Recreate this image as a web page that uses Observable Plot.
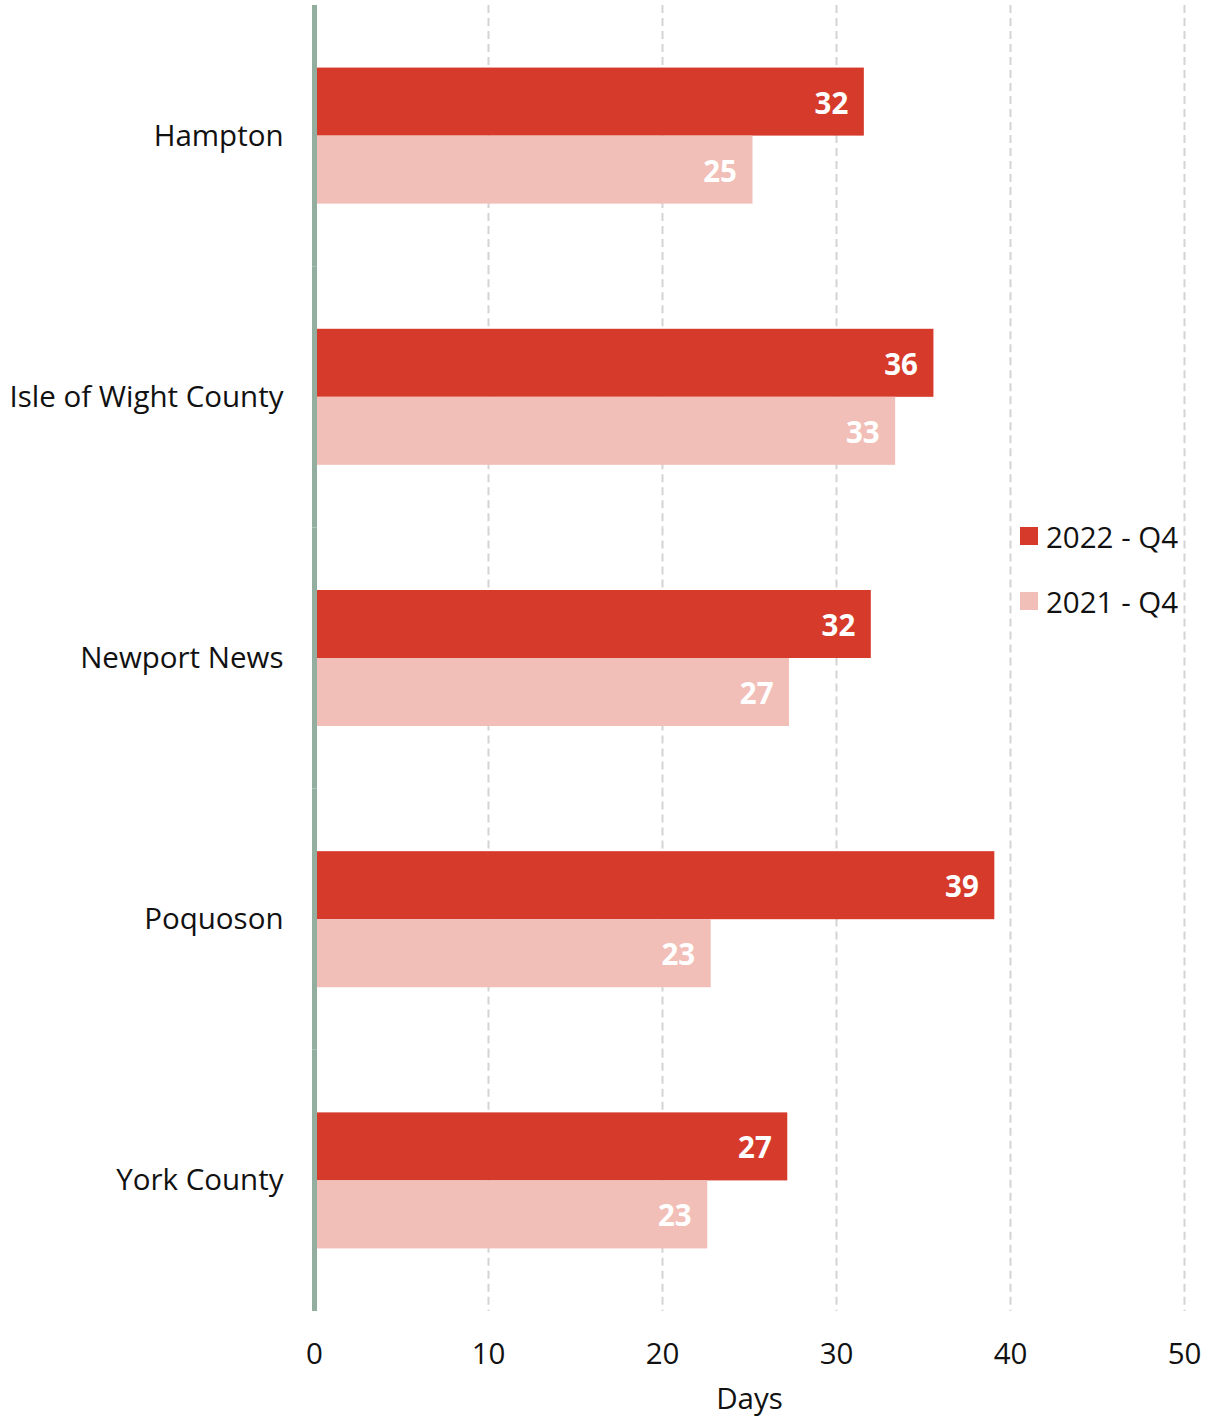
<!DOCTYPE html>
<html>
<head>
<meta charset="utf-8">
<script src="https://cdn.jsdelivr.net/npm/d3@7"></script>
<script src="https://cdn.jsdelivr.net/npm/@observablehq/plot@0.6"></script>
<style>
  html, body { margin: 0; padding: 0; background: #fff; }
  #wrap { position: relative; width: 1213px; height: 1418px; font-family: "Open Sans", sans-serif; }
  .legend { position: absolute; left: 1020px; font-size: 29.5px; color: #111; font-family: "Open Sans", sans-serif; }
  .legend .item { position: absolute; display: flex; align-items: center; white-space: nowrap; height: 40px; }
  .legend .sw { width: 18px; height: 18px; margin-right: 8px; }
</style>
</head>
<body>
<div id="wrap"></div>
<script>
const counties = ["Hampton", "Isle of Wight County", "Newport News", "Poquoson", "York County"];
const series = ["2022 - Q4", "2021 - Q4"];
const colors = ["#d63a2a", "#f1bfb8"];
const values2022 = [31.6, 35.6, 32.0, 39.1, 27.2];
const values2021 = [25.2, 33.4, 27.3, 22.8, 22.6];
const xTicks = [0, 10, 20, 30, 40, 50];
const xLabel = "Days";

const data = [];
counties.forEach((c, i) => {
  data.push({county: c, series: series[0], value: values2022[i]});
  data.push({county: c, series: series[1], value: values2021[i]});
});

const chart = Plot.plot({
  width: 1213,
  height: 1418,
  marginLeft: 314,
  marginRight: 29,
  marginTop: 5,
  marginBottom: 107,
  style: {fontFamily: "Open Sans, sans-serif", fontSize: "29.5px", color: "#111", background: "#fff"},
  x: {domain: [0, 50], ticks: xTicks},
  y: {domain: series, paddingInner: 0, paddingOuter: 0.92, round: false, axis: null},
  fy: {domain: counties, padding: 0, round: false},
  color: {domain: series, range: colors},
  marks: [
    Plot.gridX(xTicks.filter(d => d > 0), {stroke: "#d4d4d4", strokeOpacity: 1, strokeWidth: 2, strokeDasharray: "8,5"}),
    Plot.barX(data, {fy: "county", y: "series", x: "value", fill: "series"}),
    Plot.text(data, {fy: "county", y: "series", x: "value", text: d => String(Math.round(d.value)), textAnchor: "end", dx: -16, dy: 2, fill: "white", fontWeight: "bold", fontSize: 29.5}),
    Plot.ruleX([0], {stroke: "#93ae9f", strokeWidth: 5}),
    Plot.axisFy({anchor: "left", tickSize: 0, tickPadding: 31, fontSize: 29.5, label: null}),
    Plot.axisX({anchor: "bottom", ticks: xTicks, tickSize: 0, tickPadding: 32, fontSize: 29.5, label: xLabel, labelAnchor: "center", labelArrow: "none", labelOffset: 97})
  ]
});

const wrap = document.getElementById("wrap");
wrap.appendChild(chart);

const legend = document.createElement("div");
legend.className = "legend";
legend.style.top = "0px";
const legendY = [537, 602];
series.forEach((s, i) => {
  const item = document.createElement("div");
  item.className = "item";
  item.style.top = (legendY[i] - 21) + "px";
  const sw = document.createElement("div");
  sw.className = "sw";
  sw.style.background = colors[i];
  const t = document.createElement("span");
  t.textContent = s;
  item.appendChild(sw);
  item.appendChild(t);
  legend.appendChild(item);
});
wrap.appendChild(legend);
</script>
</body>
</html>
